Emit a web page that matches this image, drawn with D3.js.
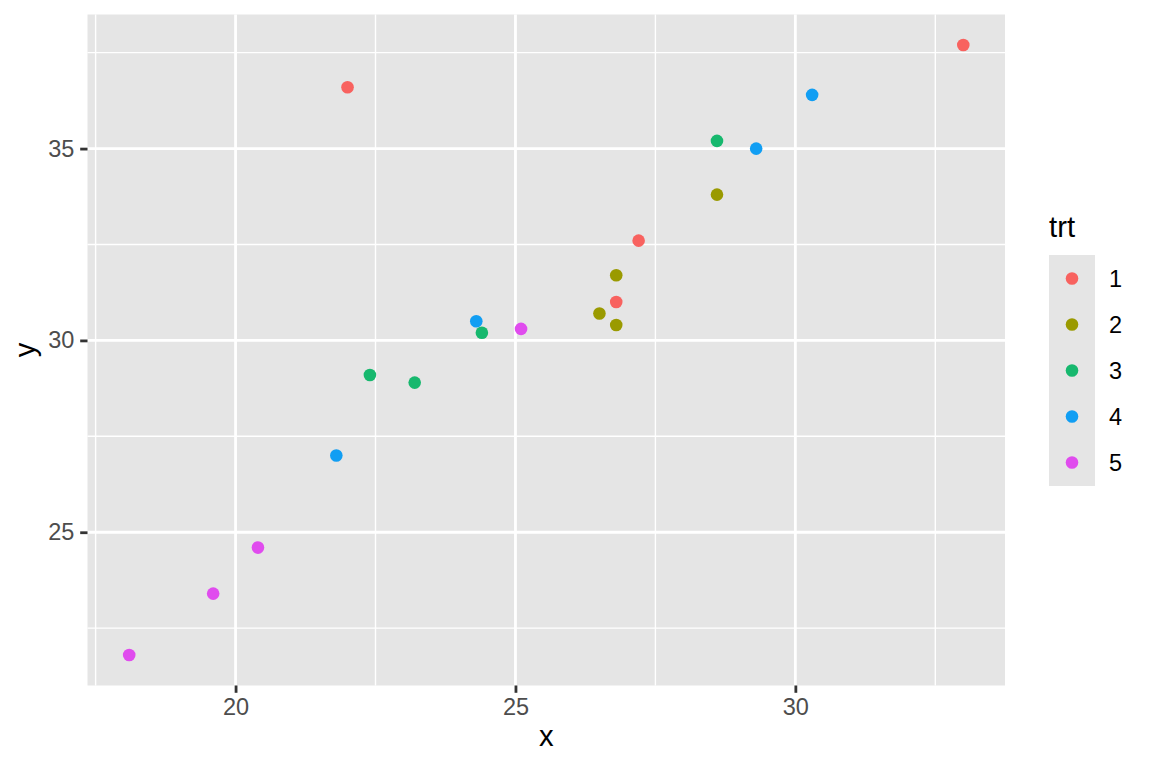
<!DOCTYPE html>
<html><head><meta charset="utf-8">
<script src="https://cdn.jsdelivr.net/npm/d3@7"></script>
<style>body{margin:0;background:#fff}svg{display:block}</style>
</head><body>
<svg id="c" width="1152" height="768"></svg>
<script>
const trt = ["1","1","1","1","2","2","2","2","3","3","3","3","4","4","4","4","5","5","5","5"];
const xs  = [22.0,33.0,27.2,26.8, 28.6,26.8,26.5,26.8, 28.6,24.4,22.4,23.2, 30.3,29.3,24.3,21.8, 25.1,20.4,19.6,18.1];
const ys  = [36.6,37.7,32.6,31.0, 33.8,31.7,30.7,30.4, 35.2,30.2,29.1,28.9, 36.4,35.0,30.5,27.0, 30.3,24.6,23.4,21.8];
const levels = ["1","2","3","4","5"];
const palette = ["#F8625F","#9A9A00","#17B86E","#119EF3","#E04CEE"];
const xTicks = [20,25,30], yTicks = [25,30,35];
const xMinor = [17.5,22.5,27.5,32.5], yMinor = [22.5,27.5,32.5,37.5];

const svg = d3.select("#c");
const L=87.5, R=1005, T=14.5, B=685.5;
const xr = d3.extent(xs), yr = d3.extent(ys);
const xp = (xr[1]-xr[0])*0.05, yp=(yr[1]-yr[0])*0.05;
const x = d3.scaleLinear().domain([xr[0]-xp, xr[1]+xp]).range([L,R]);
const y = d3.scaleLinear().domain([yr[0]-yp, yr[1]+yp]).range([B,T]);
const col = d3.scaleOrdinal().domain(levels).range(palette);
const bg = "#E5E5E5";

svg.append("rect").attr("x",L).attr("y",T).attr("width",R-L).attr("height",B-T).attr("fill",bg);
const g = svg.append("g");
g.selectAll(".vm").data(xMinor).join("line").attr("x1",d=>x(d)).attr("x2",d=>x(d)).attr("y1",T).attr("y2",B).attr("stroke","#fff").attr("stroke-width",1.4);
g.selectAll(".hm").data(yMinor).join("line").attr("y1",d=>y(d)).attr("y2",d=>y(d)).attr("x1",L).attr("x2",R).attr("stroke","#fff").attr("stroke-width",1.4);
g.selectAll(".vM").data(xTicks).join("line").attr("x1",d=>x(d)).attr("x2",d=>x(d)).attr("y1",T).attr("y2",B).attr("stroke","#fff").attr("stroke-width",2.8);
g.selectAll(".hM").data(yTicks).join("line").attr("y1",d=>y(d)).attr("y2",d=>y(d)).attr("x1",L).attr("x2",R).attr("stroke","#fff").attr("stroke-width",2.8);

const font = "Liberation Sans, Arial, sans-serif";
const xa = svg.append("g").attr("transform",`translate(0,${B})`)
  .call(d3.axisBottom(x).tickValues(xTicks).tickSize(7.3).tickPadding(5.9).tickFormat(d3.format("d")));
const ya = svg.append("g").attr("transform",`translate(${L},0)`)
  .call(d3.axisLeft(y).tickValues(yTicks).tickSize(7.3).tickPadding(5.9).tickFormat(d3.format("d")));
[xa,ya].forEach(a=>{
  a.select(".domain").remove();
  a.selectAll(".tick line").attr("stroke","#333").attr("stroke-width",2.8);
  a.selectAll(".tick text").attr("fill","#4D4D4D").style("font-family",font).style("font-size","23.5px");
});

svg.append("g").selectAll("circle").data(xs.map((v,i)=>({x:v,y:ys[i],t:trt[i]}))).join("circle")
  .attr("cx",d=>x(d.x)).attr("cy",d=>y(d.y)).attr("r",6.3).attr("fill",d=>col(d.t));

svg.append("text").attr("x",(L+R)/2).attr("y",746).attr("text-anchor","middle")
  .style("font-family",font).style("font-size","29.3px").attr("fill","#000").text("x");
svg.append("text").attr("transform",`translate(35,${(T+B)/2}) rotate(-90)`).attr("text-anchor","middle")
  .style("font-family",font).style("font-size","29.3px").attr("fill","#000").text("y");

// legend
const lg = svg.append("g");
lg.append("text").attr("x",1049).attr("y",237).style("font-family",font).style("font-size","29.3px").attr("fill","#000").text("trt");
const ly = d3.scalePoint().domain(levels).range([278.5,462.5]);
lg.append("rect").attr("x",1049).attr("y",255).attr("width",46).attr("height",231).attr("fill",bg);
lg.selectAll("circle").data(levels).join("circle").attr("cx",1072).attr("cy",d=>ly(d)).attr("r",6.3).attr("fill",d=>col(d));
lg.selectAll(".lt").data(levels).join("text").attr("x",1109).attr("y",d=>ly(d)).attr("dy","0.35em")
  .style("font-family",font).style("font-size","23.5px").attr("fill","#000").text(d=>d);
</script>
</body></html>
